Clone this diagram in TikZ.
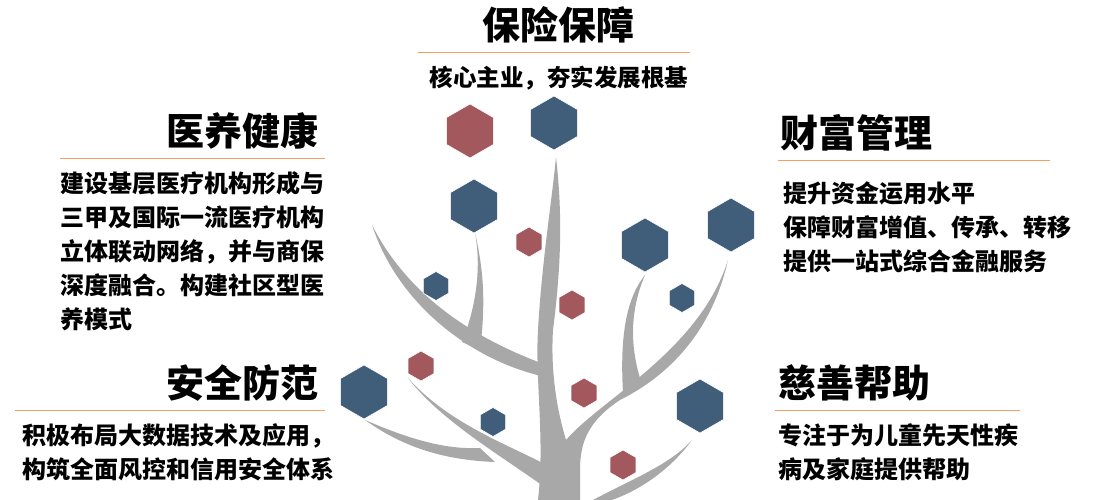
\documentclass[tikz,border=0pt]{standalone}
\usepackage{fontspec}
\setmainfont{Noto Sans CJK SC}
\usetikzlibrary{shapes.geometric}

\definecolor{hexblue}{RGB}{64,94,122}
\definecolor{hexred}{RGB}{162,88,92}
\definecolor{treegray}{RGB}{168,168,168}
\definecolor{lineorange}{RGB}{240,160,100}

\tikzset{
  hex/.style={regular polygon, regular polygon sides=6, shape border rotate=30, inner sep=0pt, draw=white, line width=0.6pt},
  bighex/.style={hex, minimum size=54pt, fill=hexblue},
  smallhex/.style={hex, minimum size=30pt},
  head/.style={font=\fontsize{38}{44}\selectfont\bfseries, inner sep=0pt},
  body/.style={font=\fontsize{24}{34}\selectfont\bfseries, inner sep=0pt, align=left},
  rule/.style={draw=lineorange, line width=0.9pt}
}

\begin{document}
\begin{tikzpicture}[x=1pt,y=1pt,yscale=-1]
\useasboundingbox (0,0) rectangle (1096,500);

%tree
\fill[treegray] (538,500) .. controls (545,440) and (535,380) .. (538,330) .. controls (542,260) and (552,200) .. (556,157) .. controls (562,210) and (562,260) .. (553,330) .. controls (550,380) and (560,420) .. (566,440) .. controls (600,400) and (700,350) .. (728,260) .. controls (710,340) and (660,380) .. (620,400) .. controls (590,420) and (580,440) .. (580,470) -- (580,500) -- cycle;
% main left branch
\fill[treegray] (551,378) .. controls (480,365) and (400,310) .. (372,225) .. controls (410,300) and (480,340) .. (541,363) -- cycle;
% left sub branch
\fill[treegray] (462,342) .. controls (475,310) and (482,270) .. (475,233) .. controls (485,275) and (485,310) .. (480,350) -- cycle;
% right sub branch
\fill[treegray] (623,393) .. controls (620,340) and (625,300) .. (645,275) .. controls (630,310) and (630,345) .. (640,378) -- cycle;
% lower left branch
\fill[treegray] (543,486) .. controls (500,455) and (440,420) .. (408,378) .. controls (450,425) and (510,445) .. (548,466) -- cycle;
% lower left sub branch
\fill[treegray] (495,462) .. controls (440,460) and (400,445) .. (365,420) .. controls (400,435) and (440,450) .. (480,448) -- cycle;
% lower right branch
\fill[treegray] (593,500) .. controls (630,480) and (670,465) .. (692,440) .. controls (670,470) and (640,490) .. (612,500) -- cycle;

%hexagons
\foreach \name/\x/\y in {hb1/554/123, hb2/474/206, hb3/645/245, hb4/731/225, hb5/364/392, hb6/700/406}
  \node[bighex] (\name) at (\x,\y) {};
\node[hex, minimum size=54pt, fill=hexred] (hr0) at (470,131) {};
\foreach \name/\x/\y in {hs1/436/286, hs2/682/298, hs3/493/422}
  \node[smallhex, fill=hexblue, minimum size=29pt] (\name) at (\x,\y) {};
\foreach \name/\x/\y in {hr1/529/242, hr2/572/305, hr3/421/366, hr4/584/393, hr5/623/465}
  \node[smallhex, fill=hexred] (\name) at (\x,\y) {};

%top
\node[head] (baoxian) at (558,25) {保险保障};
\draw[rule] (418,52) -- (690,52);
\node[body, font=\fontsize{23.5}{30}\selectfont\bfseries] (baoxiantxt) at (559,78) {核心主业，夯实发展根基};

%left upper
\node[head, anchor=east] (yiyang) at (319,131) {医养健康};
\draw[rule] (60,158) -- (325,158);
\node[body, anchor=north west] (yiyangtxt) at (60,171) {建设基层医疗机构形成与\\三甲及国际一流医疗机构\\立体联动网络，并与商保\\深度融合。构建社区型医\\养模式};

%right upper
\node[head, anchor=west] (caifu) at (780,133) {财富管理};
\draw[rule] (778,160) -- (1050,160);
\node[body, anchor=north west] (caifutxt) at (783,181) {提升资金运用水平\\保障财富增值、传承、转移\\提供一站式综合金融服务};

%left lower
\node[head, anchor=east] (anquan) at (319,383) {安全防范};
\draw[rule] (15,410) -- (325,410);
\node[body, anchor=north west] (anquantxt) at (22,423) {积极布局大数据技术及应用，\\构筑全面风控和信用安全体系};

%right lower
\node[head, anchor=west] (cishan) at (778,383) {慈善帮助};
\draw[rule] (775,410) -- (1020,410);
\node[body, anchor=north west] (cishantxt) at (778,423) {专注于为儿童先天性疾\\病及家庭提供帮助};

\end{tikzpicture}
\end{document}
